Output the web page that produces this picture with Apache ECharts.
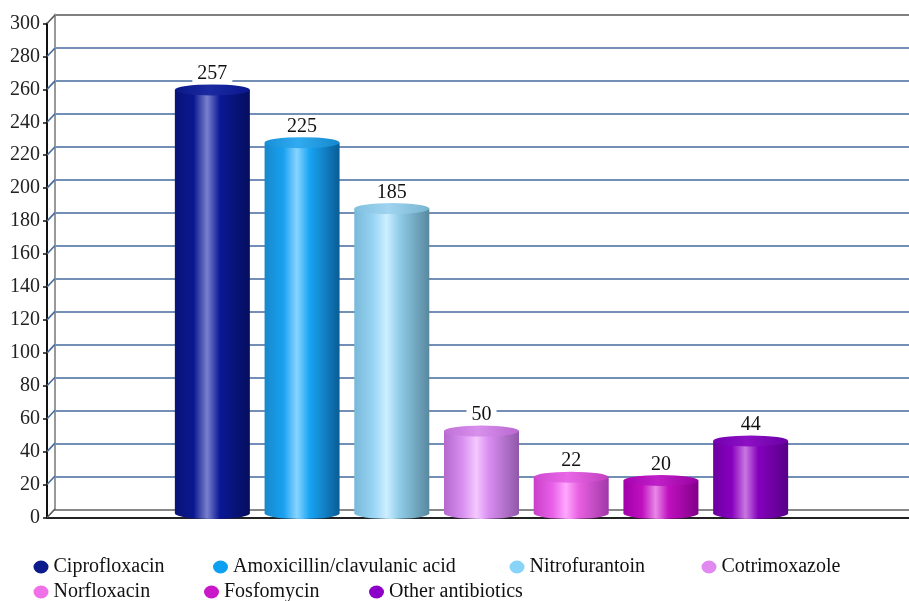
<!DOCTYPE html>
<html>
<head>
<meta charset="utf-8">
<script src="https://cdn.jsdelivr.net/npm/echarts@6/dist/echarts.min.js"></script>
<style>
html,body{margin:0;padding:0;background:#fff;}
#c{width:909px;height:601px;}
</style>
</head>
<body>
<div id="c"></div>
<script>
// ---- data ----
const seriesNames = ['Ciprofloxacin','Amoxicillin/clavulanic acid','Nitrofurantoin','Cotrimoxazole','Norfloxacin','Fosfomycin','Other antibiotics'];
const seriesValues = [257, 225, 185, 50, 22, 20, 44];
const yTicks = [0,20,40,60,80,100,120,140,160,180,200,220,240,260,280,300];

// ---- styles ----
const FONT = '"Liberation Serif", "Times New Roman", serif';
const legendColors = ['#0d1a8c','#0ea0f0','#88d4f8','#e08af0','#f070e8','#c818c8','#8c00c8'];
const bodyStops = [
  ['#081478','#0a1890','#7a80cc','#0a1896','#050e5c'],
  ['#1888cc','#18a0f0','#88d4ff','#18a4f4','#0a5c94'],
  ['#78b8d8','#98d4f4','#cceeff','#90cce8','#58889e'],
  ['#b468cc','#d890f0','#f4c8ff','#d88cf0','#9058a8'],
  ['#c840c8','#e860e8','#ffa8ff','#e860e0','#a038a8'],
  ['#a000a8','#c010c0','#e888e8','#c010c0','#800088'],
  ['#6c00a0','#8800c0','#c878e0','#8400bc','#580088']
];
const topStops = [
  ['#0a1888','#1a2aa0','#0a1890'],
  ['#1890d8','#30aaf0','#1488cc'],
  ['#80c0e0','#a0d4f0','#78b4d0'],
  ['#c070d8','#d890ec','#b868d0'],
  ['#d048d0','#e868e8','#c040c0'],
  ['#a800b0','#c020c8','#9800a0'],
  ['#7400b0','#8c10c4','#6a00a4']
];
function grad(st){
  return new echarts.graphic.LinearGradient(0,0,1,0,[
    {offset:0,color:st[0]},{offset:0.25,color:st[1]},{offset:0.43,color:st[2]},
    {offset:0.6,color:st[3]},{offset:1,color:st[4]}]);
}
function grad3(st){
  return new echarts.graphic.LinearGradient(0,0,1,0,[
    {offset:0,color:st[0]},{offset:0.45,color:st[1]},{offset:1,color:st[2]}]);
}

const chart = echarts.init(document.getElementById('c'), null, {renderer:'canvas'});

const gridColors = yTicks.map(v => (v===0||v===300) ? '#555555' : '#456a9c');

const legendPos = [[33.5,557],[213,557],[509.5,557],[701.5,557],[33.5,582],[204,582],[369,582]];
const ELLIPSE = 'path://M0,6.5A7.5,6.5 0 1,0 15,6.5A7.5,6.5 0 1,0 0,6.5Z';

const barSeries = seriesNames.map((n,i)=>({
  type:'bar', name:n, xAxisIndex:2, yAxisIndex:2, stack:'s',
  barWidth:75, z:3,
  itemStyle:{color:grad(bodyStops[i])},
  label:{show:true, position:'top', distance:6, fontFamily:FONT, fontSize:20, color:'#111',
         backgroundColor:'#fff', padding:[0,5], lineHeight:20},
  data: seriesNames.map((c,j)=> j===i ? seriesValues[i] : '-')
}));

const option = {
  animation:false,
  backgroundColor:'#fff',
  grid:[
    {left:55, right:0, top:14.5, bottom:91.5},   // back wall
    {left:47, right:0, top:23.5, bottom:83.5},   // front axis
    {left:167.5, right:113.5, top:19, bottom:87.5} // bars (mid depth)
  ],
  xAxis:[
    {gridIndex:0, type:'value', min:0, max:1, axisLine:{show:true, lineStyle:{color:'#888', width:2}},
     axisTick:{show:false}, axisLabel:{show:false}, splitLine:{show:false}},
    {gridIndex:1, type:'value', min:0, max:1, axisLine:{show:true, lineStyle:{color:'#222', width:2}},
     axisTick:{show:false}, axisLabel:{show:false}, splitLine:{show:false}},
    {gridIndex:2, type:'category', data:seriesNames, show:false}
  ],
  yAxis:[
    {gridIndex:0, type:'value', min:0, max:300, interval:20,
     axisLine:{show:true, lineStyle:{color:'#999', width:2}}, axisTick:{show:false}, axisLabel:{show:false},
     splitLine:{show:true, lineStyle:{color:gridColors, width:1.6}}},
    {gridIndex:1, type:'value', min:0, max:300, interval:20,
     axisLine:{show:true, lineStyle:{color:'#111', width:2}},
     axisTick:{show:true, length:4, lineStyle:{color:'#111', width:1.5}},
     axisLabel:{show:true, margin:7, fontFamily:FONT, fontSize:20, color:'#222'},
     splitLine:{show:false}},
    {gridIndex:2, type:'value', min:0, max:300, show:false}
  ],
  series:[
    {
      type:'custom', xAxisIndex:1, yAxisIndex:1, z:1, silent:true,
      data: yTicks.map(v=>[0,v]),
      renderItem:function(params, api){
        const v = api.value(1);
        const p = api.coord([0, v]);
        return {type:'line', shape:{x1:p[0], y1:p[1], x2:p[0]+8, y2:p[1]-8.5},
                style:{stroke:(v===0||v===300)?'#555':'#456a9c', lineWidth:1.6}};
      }
    },
    ...barSeries,
    {
      type:'pictorialBar', xAxisIndex:2, yAxisIndex:2, symbol:'circle',
      symbolSize:[75,11], symbolOffset:[0,-5.5], symbolPosition:'end', z:4, silent:true,
      data: seriesValues.map((v,i)=>({value:v, itemStyle:{color:grad3(topStops[i])}}))
    },
    {
      type:'pictorialBar', xAxisIndex:2, yAxisIndex:2, symbol:'circle',
      symbolSize:[75,11], symbolOffset:[0,5.5], symbolPosition:'start', z:2, silent:true,
      data: seriesValues.map((v,i)=>({value:v, itemStyle:{color:grad(bodyStops[i])}}))
    }
  ],
  legend: seriesNames.map((n,i)=>({
    left:legendPos[i][0], top:legendPos[i][1], padding:0, orient:'horizontal',
    icon:ELLIPSE, itemWidth:15, itemHeight:13, itemGap:0, itemTextGap:8,
    selectedMode:false,
    textStyle:{fontFamily:FONT, fontSize:20, color:'#111'},
    data:[{name:n, itemStyle:{color:legendColors[i]}}]
  }))
};
chart.setOption(option);
</script>
</body>
</html>
